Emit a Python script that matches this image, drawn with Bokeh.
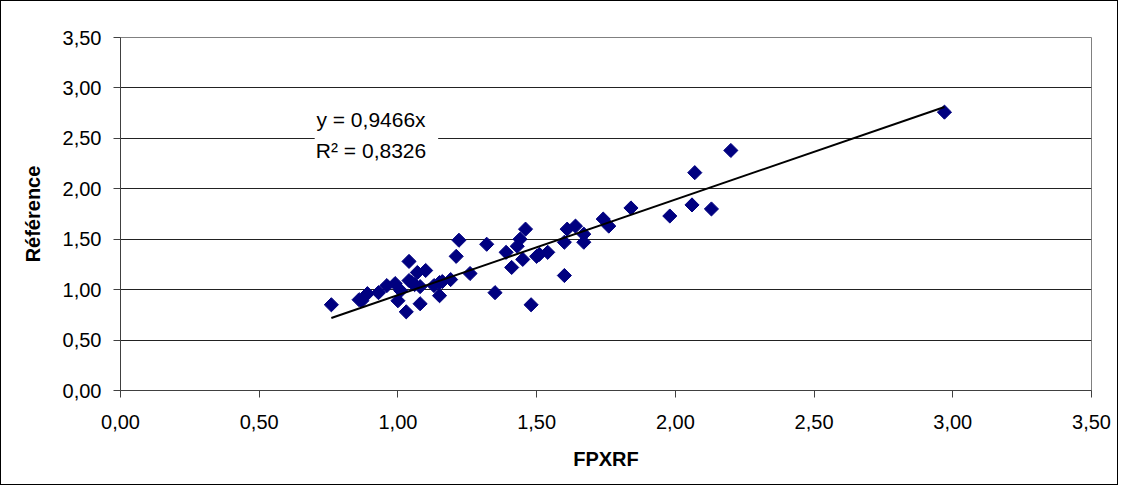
from bokeh.plotting import figure
from bokeh.models import Label, BoxAnnotation, FixedTicker, InlineStyleSheet
from bokeh.embed import file_html
from bokeh.resources import INLINE

# ---- data ----
fpxrf = [0.76, 0.86, 0.87, 0.89, 0.93, 0.96, 0.99, 1.00, 1.01, 1.03,
         1.04, 1.04, 1.06, 1.07, 1.08, 1.08, 1.10, 1.13, 1.15, 1.15,
         1.19, 1.22, 1.21, 1.26, 1.32, 1.35, 1.39, 1.41, 1.43, 1.44,
         1.46, 1.45, 1.48, 1.50, 1.51, 1.54, 1.60, 1.61, 1.60, 1.64,
         1.67, 1.67, 1.74, 1.76, 1.84, 1.98, 2.06, 2.07, 2.13, 2.20,
         2.97, 1.05, 1.16]
reference = [0.85, 0.90, 0.89, 0.96, 0.97, 1.04, 1.06, 0.89, 0.99, 0.78,
             1.28, 1.09, 1.05, 1.17, 0.86, 1.03, 1.19, 1.04, 1.07, 0.94,
             1.10, 1.49, 1.33, 1.16, 1.45, 0.97, 1.37, 1.22, 1.43, 1.50,
             1.60, 1.30, 0.85, 1.33, 1.35, 1.37, 1.14, 1.60, 1.47, 1.63,
             1.55, 1.47, 1.70, 1.63, 1.81, 1.73, 1.84, 2.16, 1.80, 2.38,
             2.76, 1.07, 1.08]
slope = 0.9466
r_squared = 0.8326
ticks = [0.0, 0.5, 1.0, 1.5, 2.0, 2.5, 3.0, 3.5]
tick_labels = ["0,00", "0,50", "1,00", "1,50", "2,00", "2,50", "3,00", "3,50"]

FONT = "Liberation Sans"

p = figure(width=1118, height=485, x_range=(0, 3.5), y_range=(0, 3.5),
           output_backend="svg", toolbar_location=None,
           min_border_left=119, min_border_right=28,
           min_border_top=36, min_border_bottom=96)
p.stylesheets = [InlineStyleSheet(css=":host { box-sizing: border-box; border: 1px solid #000; }")]

p.background_fill_color = "white"
p.border_fill_color = "white"
p.outline_line_color = "#808080"
p.outline_line_width = 1

overrides = {t: l for t, l in zip(ticks, tick_labels)}
for ax in (p.xaxis[0], p.yaxis[0]):
    ax.ticker = FixedTicker(ticks=ticks)
    ax.major_label_overrides = overrides
    ax.major_label_text_font = FONT
    ax.major_label_text_font_size = "20px"
    ax.major_label_text_color = "black"
    ax.axis_label_text_font = FONT
    ax.axis_label_text_font_size = "20px"
    ax.axis_label_text_font_style = "bold"
    ax.axis_label_text_color = "black"
    ax.axis_line_color = "#404040"
    ax.major_tick_line_color = "#404040"
    ax.major_tick_out = 7
    ax.major_tick_in = 0
    ax.minor_tick_line_color = None

p.xaxis.axis_label = "FPXRF"
p.yaxis.axis_label = "Référence"
p.yaxis.major_label_standoff = 12
p.xaxis.major_label_standoff = 17
p.xaxis.axis_label_standoff = 16
p.yaxis.axis_label_standoff = 16

p.xgrid.grid_line_color = None
p.ygrid.grid_line_color = "#222222"
p.ygrid.grid_line_width = 1

p.scatter(fpxrf, reference, marker="square", size=10, angle=45, angle_units="deg",
          fill_color="#000080", line_color="#000080")

x_line = [min(fpxrf), max(fpxrf)]
y_line = [slope * v for v in x_line]
p.line(x_line, y_line, line_color="black", line_width=2)

p.add_layout(BoxAnnotation(left=0.70, right=1.145, bottom=2.22, top=2.82,
                           fill_color="white", fill_alpha=1.0, line_alpha=0))
eq = "y = " + f"{slope:.4f}".replace(".", ",") + "x"
r2 = "R² = " + f"{r_squared:.4f}".replace(".", ",")
p.add_layout(Label(x=0.903, y=2.69, text=eq, text_align="center", text_baseline="middle",
                   text_font=FONT, text_font_size="21px", text_color="black"))
p.add_layout(Label(x=0.903, y=2.375, text=r2, text_align="center", text_baseline="middle",
                   text_font=FONT, text_font_size="21px", text_color="black"))

open("out.html", "w").write(file_html(p, INLINE))
